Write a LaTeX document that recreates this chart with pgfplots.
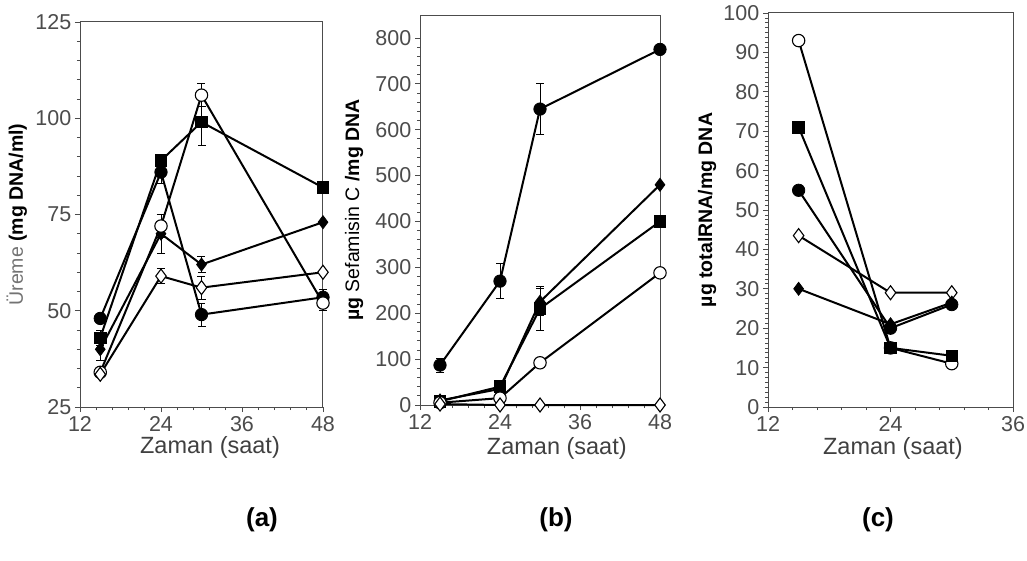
\documentclass[border=0pt]{standalone}
\usepackage{fontspec}
\setmainfont{Liberation Sans}
\usepackage{pgfplots}
\pgfplotsset{compat=1.18}
\pgfplotsset{
  panel/.style={
    scale only axis, clip=false, anchor=south west,
    axis line style={gray!60!black, line width=1pt},
    xtick pos=bottom, ytick pos=left,
    tick align=outside,
    major tick length=5pt, minor tick length=3pt,
    every tick/.style={gray!60!black, line width=0.8pt},
    tick label style={font=\fontsize{21.5}{24}\selectfont, text=black!70},
    xticklabel style={inner sep=1.5pt, yshift=-2.5pt},
    yticklabel style={inner sep=1.5pt, xshift=-2pt},
    /pgf/number format/assume math mode=true,
    xtick={12,24,36,48}, minor x tick num=4,
    xlabel={Zaman (saat)},
    xlabel style={font=\fontsize{23.5}{27}\selectfont, text=black!75, anchor=center, inner sep=0pt},
    ylabel style={font=\fontsize{19.5}{23}\selectfont, text=black, anchor=center},
  },
  dl/.style={black, line width=2pt,
    error bars/y dir=both, error bars/y explicit,
    error bars/error bar style={line width=0.9pt, black},
    error bars/error mark options={rotate=90, mark size=4pt, line width=0.9pt, black}},
  sq/.style={mark=square*, mark size=5.8pt, mark options={solid, fill=black, line width=0.8pt}},
  fc/.style={mark=*, mark size=6.2pt, mark options={solid, fill=black, line width=0.8pt}},
  fd/.style={mark=diamond*, mark size=6.5pt, mark options={solid, fill=black, line width=0.8pt}},
  oc/.style={mark=*, mark size=6.2pt, mark options={solid, fill=white, draw=black, line width=1.1pt}},
  od/.style={mark=diamond*, mark size=7pt, mark options={solid, fill=white, draw=black, line width=1.1pt}},
}
\begin{document}
\begin{tikzpicture}[x=1pt,y=1pt]
\path[use as bounding box] (0,0) rectangle (1027,560);

% ---------- (a) ----------
\begin{axis}[panel, at={(80pt,153pt)}, width=243pt, height=385pt,
  xmin=12, xmax=48, ymin=25, ymax=125,
  ytick={25,50,75,100,125}, minor y tick num=4,
  xlabel style={at={(axis description cs:0.535,-0.106)}},
  ylabel={{\color{black!55}Üreme} \textbf{(mg DNA/ml)}},
  ylabel style={at={(axis description cs:-0.26,0.5)}},
]
\addplot+[dl, sq] coordinates {(15,43) +- (0,2) (24,89) +- (0,0) (30,99) +- (0,6) (48,82) +- (0,0)};
\addplot+[dl, fc] coordinates {(15,48) +- (0,0) (24,86) +- (0,3) (30,49) +- (0,3) (48,53.5) +- (0,2)};
\addplot+[dl, fd] coordinates {(15,40) +- (0,3) (24,70) +- (0,5) (30,62) +- (0,2) (48,73) +- (0,0)};
\addplot+[dl, oc] coordinates {(15,34) +- (0,0) (24,72) +- (0,3) (30,106) +- (0,3) (48,52) +- (0,2)};
\addplot+[dl, od] coordinates {(15,33.5) +- (0,0) (24,59) +- (0,2) (30,56) +- (0,3) (48,60) +- (0,0)};
\end{axis}

% ---------- (b) ----------
\begin{axis}[panel, at={(420pt,155pt)}, width=240pt, height=390pt,
  xmin=12, xmax=48, ymin=0, ymax=850,
  ytick={0,100,...,800}, minor y tick num=4,
  xlabel style={at={(axis description cs:0.57,-0.111)}},
  ylabel={\textbf{µg} Sefamisin C \textbf{/mg DNA}},
  ylabel style={at={(axis description cs:-0.275,0.5)}},
]
\addplot+[dl, fc] coordinates {(15,87) +- (0,15) (24,270) +- (0,38) (30,645) +- (0,55) (48,775) +- (0,0)};
\addplot+[dl, fd] coordinates {(15,10) +- (0,0) (24,35) +- (0,0) (30,225) +- (0,30) (48,480) +- (0,0)};
\addplot+[dl, sq] coordinates {(15,8) +- (0,0) (24,40) +- (0,0) (30,210) +- (0,48) (48,400) +- (0,0)};
\addplot+[dl, oc] coordinates {(15,5) +- (0,0) (24,15) +- (0,0) (30,92) +- (0,0) (48,288) +- (0,0)};
\addplot+[dl, od] coordinates {(15,2) +- (0,0) (24,0) +- (0,0) (30,0) +- (0,0) (48,0) +- (0,0)};
\end{axis}

% ---------- (c) ----------
\begin{axis}[panel, at={(768pt,153pt)}, width=245pt, height=394pt,
  xmin=12, xmax=36, ymin=0, ymax=100,
  xtick={12,24,36},
  ytick={0,10,...,100}, minor y tick num=7,
  xlabel style={at={(axis description cs:0.51,-0.106)}},
  ylabel={\textbf{µg totalRNA/mg DNA}},
  ylabel style={at={(axis description cs:-0.249,0.5)}},
]
\addplot+[dl, oc] coordinates {(15,93) +- (0,0) (24,15) +- (0,0) (30,11) +- (0,0)};
\addplot+[dl, sq] coordinates {(15,71) +- (0,0) (24,15) +- (0,0) (30,13) +- (0,0)};
\addplot+[dl, fc] coordinates {(15,55) +- (0,0) (24,20) +- (0,0) (30,26) +- (0,0)};
\addplot+[dl, od] coordinates {(15,43.5) +- (0,0) (24,29) +- (0,0) (30,29) +- (0,0)};
\addplot+[dl, fd] coordinates {(15,30) +- (0,0) (24,21) +- (0,0) (30,26.5) +- (0,0)};
\end{axis}

\node[font=\fontsize{26}{30}\selectfont\bfseries] at (262,40) {(a)};
\node[font=\fontsize{26}{30}\selectfont\bfseries] at (556,40) {(b)};
\node[font=\fontsize{26}{30}\selectfont\bfseries] at (878,40) {(c)};
\end{tikzpicture}
\end{document}
